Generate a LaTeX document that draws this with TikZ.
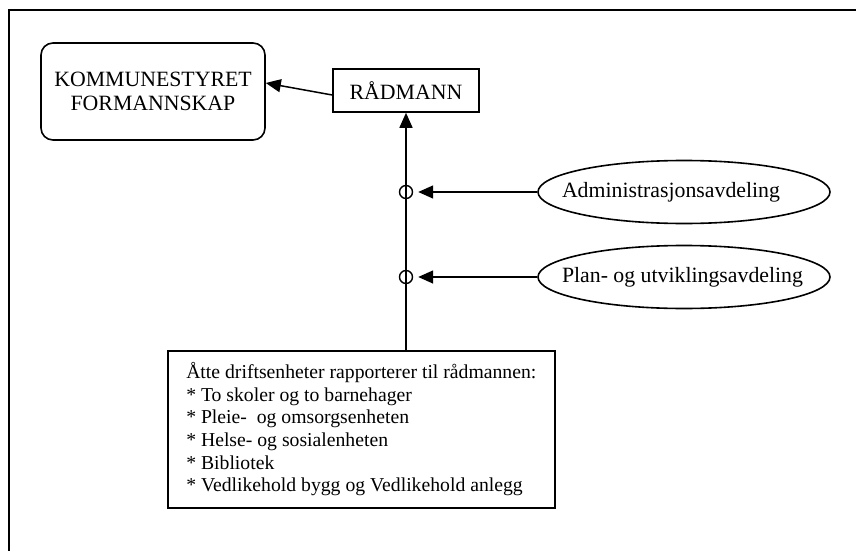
\documentclass[tikz,border=0pt]{standalone}
\usepackage{fontspec}
\setmainfont{Liberation Serif}
\usetikzlibrary{arrows.meta,shapes.geometric}

\begin{document}
\begin{tikzpicture}[x=0.5pt, y=-0.5pt,
            font=\fontsize{10.9}{12}\selectfont,
            rbox/.style={rectangle, draw, rounded corners=6pt, line width=0.8pt, minimum width=112pt, minimum height=48.5pt, inner sep=0pt, align=center},
            pbox/.style={rectangle, draw, line width=0.8pt, minimum width=73pt, minimum height=21.5pt, inner sep=0pt},
            avd/.style={ellipse, draw, line width=0.8pt, minimum width=146pt, minimum height=31.5pt, inner xsep=-10pt, inner ysep=0pt},
            junc/.style={circle, draw, line width=0.7pt, minimum size=6.5pt, inner sep=0pt},
            enh/.style={rectangle, draw, line width=0.8pt, anchor=north west, minimum width=193.5pt, minimum height=78.5pt, inner sep=0pt, align=left, font=\fontsize{9.85}{11.3}\selectfont},
            arrow/.style={-{Triangle[length=7.5pt, width=6.5pt]}, line width=0.75pt}
        ]
            \useasboundingbox (0,0) rectangle (856,551);
            \draw[line width=1pt] (9,551) -- (9,10) -- (856,10);
            \node[rbox] (komm) at (153,91.5) {KOMMUNESTYRET\\FORMANNSKAP};
            \node[pbox] (rad) at (406,90.5) {RÅDMANN};
            \node[enh] (enheter) at (167,350) {Åtte driftsenheter rapporterer til rådmannen:\\{}%
                * To skoler og to barnehager\\{}%
                * Pleie-\ \ og omsorgsenheten\\{}%
                * Helse- og sosialenheten\\{}%
                * Bibliotek\\{}%
                * Vedlikehold bygg og Vedlikehold anlegg};
            \foreach \y/\name/\lab in {192/adm/Administrasjonsavdeling,277/plan/Plan- og utviklingsavdeling} {
                \node[junc] (j\name) at (406,\y) {};
                \node[avd] (\name) at (684,\y) {\makebox[122pt][l]{\lab}};
                \draw[arrow, shorten >=2.5pt] (\name) -- (j\name);
            }
            \draw[arrow] (rad.south |- enheter.north) -- (rad.south);
            \draw[arrow] ([yshift=-2.25pt]rad.west) -- ([yshift=4.25pt]komm.east);
        \end{tikzpicture}
\end{document}
